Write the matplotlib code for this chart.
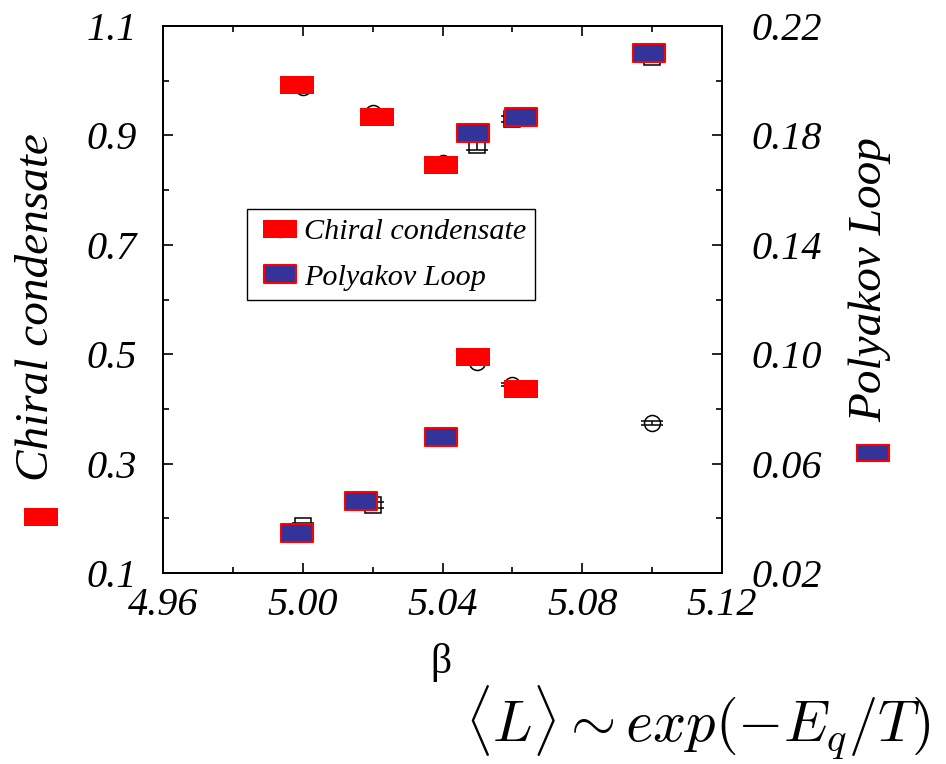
import matplotlib
matplotlib.use("Agg")
import matplotlib.pyplot as plt
import numpy as np
from matplotlib.path import Path
from matplotlib.lines import Line2D
from matplotlib.patches import Rectangle
from matplotlib.legend_handler import HandlerTuple
from matplotlib.ticker import FixedLocator, FormatStrFormatter

plt.rcParams['font.family'] = ['Liberation Serif', 'DejaVu Serif']
plt.rcParams['mathtext.fontset'] = 'cm'

beta = [5.00, 5.02, 5.04, 5.05, 5.06, 5.10]
chiral = [0.988, 0.941, 0.850, 0.486, 0.444, 0.374]
chiral_err = [0.003, 0.003, 0.003, 0.004, 0.003, 0.003]
polyakov = [0.0372, 0.0449, 0.0701, 0.1765, 0.186, 0.2087]
polyakov_err = [0.001, 0.001, 0.001, 0.002, 0.001, 0.001]

# highlight boxes pasted over the points
red_box_beta = [4.9984, 5.0212, 5.0396, 5.0487, 5.0625]
red_box_val = [0.992, 0.934, 0.846, 0.495, 0.436]
blue_box_beta = [4.9984, 5.0167, 5.0396, 5.0487, 5.0625, 5.0991]
blue_box_val = [0.0346, 0.0463, 0.0697, 0.1809, 0.1867, 0.2101]

# axis ticks
x_major = [4.96, 5.00, 5.04, 5.08, 5.12]
x_minor = [4.98, 5.02, 5.06, 5.10]
left_major = [0.1, 0.3, 0.5, 0.7, 0.9, 1.1]
left_minor = [0.2, 0.4, 0.6, 0.8, 1.0]
right_major = [0.02, 0.06, 0.10, 0.14, 0.18, 0.22]
right_minor = [0.04, 0.08, 0.12, 0.16, 0.20]

RED = '#ff0000'
BLUE = '#333399'

box = Path([(-1, -0.53), (1, -0.53), (1, 0.53), (-1, 0.53), (-1, -0.53)],
           [Path.MOVETO, Path.LINETO, Path.LINETO, Path.LINETO, Path.CLOSEPOLY])

fig = plt.figure(figsize=(9.46, 7.64), dpi=100)
ax = fig.add_axes([163 / 946, 1 - 573 / 764, 559 / 946, 547 / 764])
ax2 = ax.twinx()

ax.errorbar(beta, chiral, yerr=chiral_err, fmt='o', ms=11.5, mfc='none',
            mec='black', mew=1.1, ecolor='black', elinewidth=1.1, capsize=8,
            capthick=1.1, zorder=2)
ax2.errorbar(beta, polyakov, yerr=polyakov_err, fmt='s', ms=11.5, mfc='none',
             mec='black', mew=1.1, ecolor='black', elinewidth=1.1, capsize=8,
             capthick=1.1, zorder=2)

ax.plot(red_box_beta, red_box_val, ls='none', marker=box, ms=24.5,
        mfc=RED, mec=RED, mew=0, zorder=5)
ax2.plot(blue_box_beta, blue_box_val, ls='none', marker=box, ms=23.5,
         mfc=BLUE, mec=RED, mew=1.5, zorder=5)

ax.set_xlim(4.96, 5.12)
ax.set_ylim(0.1, 1.1)
ax2.set_ylim(0.02, 0.22)

ax.xaxis.set_major_locator(FixedLocator(x_major))
ax.xaxis.set_minor_locator(FixedLocator(x_minor))
ax.xaxis.set_major_formatter(FormatStrFormatter('%.2f'))
ax.yaxis.set_major_locator(FixedLocator(left_major))
ax.yaxis.set_minor_locator(FixedLocator(left_minor))
ax.yaxis.set_major_formatter(FormatStrFormatter('%.1f'))
ax2.yaxis.set_major_locator(FixedLocator(right_major))
ax2.yaxis.set_minor_locator(FixedLocator(right_minor))
ax2.yaxis.set_major_formatter(FormatStrFormatter('%.2f'))

for a in (ax, ax2):
    for s in a.spines.values():
        s.set_linewidth(1.3)
ax.tick_params(axis='x', which='both', direction='in', top=True, width=1.2,
               labelsize=29, pad=10)
ax.tick_params(axis='y', which='both', direction='in', width=1.2,
               labelsize=29, pad=19)
ax2.tick_params(axis='y', which='both', direction='in', width=1.2,
                labelsize=29, pad=21)
for a in (ax, ax2):
    a.tick_params(which='major', length=7)
    a.tick_params(which='minor', length=4)
for lab in ax.get_xticklabels() + ax.get_yticklabels() + ax2.get_yticklabels():
    lab.set_fontstyle('italic')

# legend: box drawn over the marker, like the picture
h1 = (Line2D([], [], ls='none', marker='o', ms=11.5, mfc='none', mec='black', mew=1.1),
      Line2D([], [], ls='none', marker=box, ms=24.5, mfc=RED, mec=RED, mew=0))
h2 = (Line2D([], [], ls='none', marker='s', ms=11.5, mfc='none', mec='black', mew=1.1),
      Line2D([], [], ls='none', marker=box, ms=23.5, mfc=BLUE, mec=RED, mew=1.5))
leg = ax.legend([h1, h2], ['Chiral condensate', 'Polyakov Loop'],
                handler_map={tuple: HandlerTuple(ndivide=1, pad=0)},
                loc='upper left', bbox_to_anchor=(0.150, 0.665), borderaxespad=0,
                fancybox=False, edgecolor='black', framealpha=1,
                prop={'style': 'italic', 'size': 21.7}, handlelength=1.6,
                handletextpad=0.0, borderpad=0.3, labelspacing=0.6)
leg.get_frame().set_linewidth(1.0)
leg.set_zorder(10)

fig.text(37 / 946, 1 - 307 / 764, 'Chiral condensate', rotation=90, fontsize=34,
         fontstyle='italic', ha='center', va='center')
fig.text(870 / 946, 1 - 280 / 764, 'Polyakov Loop', rotation=90, fontsize=34,
         fontstyle='italic', ha='center', va='center')
fig.text(441 / 946, 1 - 662 / 764, 'β', fontsize=30, ha='center', va='center')
fig.text(930 / 946, 1 - 743 / 764, r'$\langle L\rangle \sim exp(-E_q/T)$',
         fontsize=42, ha='right', va='baseline')

fig.add_artist(Rectangle((24 / 946, 1 - 526 / 764), 34 / 946, 18 / 764,
                         transform=fig.transFigure, fc=RED, ec='none'))
fig.add_artist(Rectangle((857 / 946, 1 - 461 / 764), 32 / 946, 16 / 764,
                         transform=fig.transFigure, fc=BLUE, ec=RED, lw=1.5))

fig.savefig('out.png', dpi=100)
